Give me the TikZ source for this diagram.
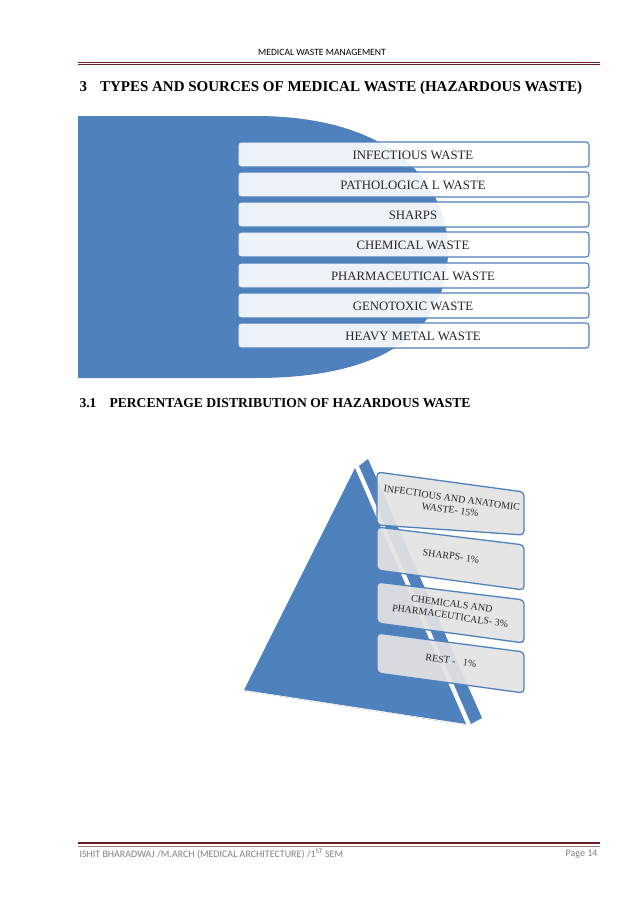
\documentclass[tikz,border=0pt]{standalone}
\usepackage{fontspec}
\setmainfont{Liberation Serif}
\newfontfamily\carl{Carlito}
\begin{document}
\begin{tikzpicture}[x=1pt,y=-1pt,
  bar/.style={draw=wblue,line width=1.1pt,fill=white,fill opacity=0.9,text opacity=1,rounded corners=3pt},
  bartxt/.style={font=\fontsize{12.8}{14}\selectfont,text=black!85},
  pbox/.style={draw=wblue,line width=1.3pt,fill=gray!22,fill opacity=0.92,rounded corners=4pt},
  ptxt/.style={font=\fontsize{10}{12}\selectfont,align=center,rotate=-8,text=black!85}]
\definecolor{wblue}{HTML}{4F81BD}
\definecolor{dred}{HTML}{6B1F1F}
\useasboundingbox (0,0) rectangle (638,903);
\fill[white] (0,0) rectangle (638,903);
% header
\node[font=\carl\fontsize{9.6}{11}\selectfont] (hdr) at (322,52) {MEDICAL WASTE MANAGEMENT};
\draw[dred,line width=0.6pt] (78,62) -- (600,62);
\draw[dred,line width=0.6pt] (78,64) -- (600,64);
\node[anchor=west,font=\bfseries\fontsize{15}{16}\selectfont] (h1) at (76,88) {3\hspace{13pt}TYPES AND SOURCES OF MEDICAL WASTE (HAZARDOUS WASTE)};
% diagram 1 background
\fill[wblue] (78,116) -- (255,116) .. controls (400,116) and (448,190) .. (448,250)
  .. controls (448,320) and (400,378) .. (255,378) -- (78,378) -- cycle;
\foreach \y/\t [count=\i] in {142/INFECTIOUS WASTE,172/PATHOLOGICA L WASTE,202/SHARPS,232/CHEMICAL WASTE,263/PHARMACEUTICAL WASTE,293/GENOTOXIC WASTE,323/HEAVY METAL WASTE}{
  \draw[bar] (238,\y) rectangle (589,\y+25);
  \node[bartxt] (b\i) at (413,\y+13.5) {\t};
}
\node[anchor=west,font=\bfseries\fontsize{13.6}{15}\selectfont] (h2) at (76,403) {3.1\hspace{13pt}PERCENTAGE DISTRIBUTION OF HAZARDOUS WASTE};
% pyramid
\fill[wblue] (355,468) -- (244,690) -- (466,724) -- cycle;
\draw[gray!60,dashed,line width=0.4pt] (244,691) -- (466,725);
\fill[wblue] (359,466) -- (368,459) -- (482,718) -- (471,724) -- cycle;
\foreach \a/\b/\c/\d/\t [count=\i] in {
 472/525/492/535/{INFECTIOUS AND ANATOMIC\\WASTE- 15\%},
 527/570/545/590/{SHARPS- 1\%},
 582/623/600/643/{CHEMICALS AND\\PHARMACEUTICALS- 3\%},
 633/673/652/693/{REST -\ \ \ 1\%}}{
  \draw[pbox] (377,\a) -- (524,\c) -- (524,\d) -- (377,\b) -- cycle;
  \node[ptxt] (p\i) at (451,{(\a+\b+\c+\d)/4-2}) {\t};
}
% footer
\draw[dred,line width=2.6pt] (78,843) -- (600,843);
\draw[dred!60,line width=0.5pt] (78,846.5) -- (600,846.5);
\node[anchor=west,font=\carl\fontsize{10}{11}\selectfont,text=gray] (f1) at (76,854) {ISHIT BHARADWAJ /M.ARCH (MEDICAL ARCHITECTURE) /1\textsuperscript{ST} SEM};
\node[anchor=east,font=\carl\fontsize{10}{11}\selectfont,text=gray] (f2) at (601,854) {Page 14};
\end{tikzpicture}
\end{document}
